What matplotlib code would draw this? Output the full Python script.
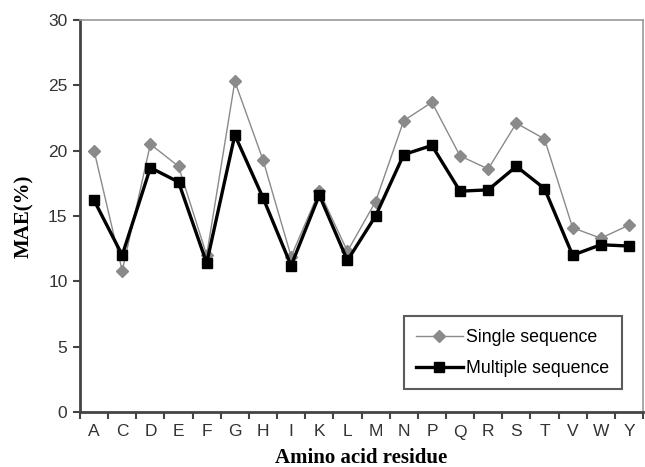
import matplotlib
matplotlib.use("Agg")
import matplotlib.pyplot as plt

residues = ["A", "C", "D", "E", "F", "G", "H", "I", "K", "L",
            "M", "N", "P", "Q", "R", "S", "T", "V", "W", "Y"]
single_seq = [20.0, 10.8, 20.5, 18.8, 12.0, 25.3, 19.3, 11.9, 16.9, 12.3,
              16.1, 22.3, 23.7, 19.6, 18.6, 22.1, 20.9, 14.1, 13.3, 14.3]
multiple_seq = [16.2, 12.0, 18.7, 17.6, 11.4, 21.2, 16.4, 11.2, 16.6, 11.6,
                15.0, 19.7, 20.4, 16.9, 17.0, 18.8, 17.1, 12.0, 12.8, 12.7]
yticks = [0, 5, 10, 15, 20, 25, 30]

fig = plt.figure(figsize=(6.45, 4.67), dpi=100)
ax = fig.add_axes([80/645, 55/467, 563/645, 392/467])

x = list(range(len(residues)))
ax.plot(x, single_seq, color="#8a8a8a", lw=1.0, marker="D", ms=6,
        mfc="#8a8a8a", mec="#8a8a8a", label="Single sequence", zorder=2)
ax.plot(x, multiple_seq, color="black", lw=2.4, marker="s", ms=7,
        mfc="black", mec="black", label="Multiple sequence", zorder=3)

ax.set_xlim(-0.5, len(residues) - 0.5)
ax.set_ylim(0, 30)
ax.set_yticks(yticks)
ax.set_xticks(x)
ax.set_xticklabels(residues)
ax.set_xticks([i - 0.5 for i in range(len(residues) + 1)], minor=True)
ax.tick_params(axis="x", which="major", length=0, pad=9, labelsize=12.5, colors="#333333")
ax.tick_params(axis="x", which="minor", length=5, width=1.5, direction="out", color="#444444")
ax.tick_params(axis="y", length=5, width=1.5, direction="out", labelsize=12.5, color="#444444",
               labelcolor="#333333", pad=4)
for lbl in ax.get_xticklabels() + ax.get_yticklabels():
    lbl.set_family("Liberation Sans")

for side in ["left", "bottom"]:
    ax.spines[side].set_linewidth(2.0)
    ax.spines[side].set_color("#444444")
for side in ["top", "right"]:
    ax.spines[side].set_linewidth(1.2)
    ax.spines[side].set_color("#999999")

ax.set_xlabel("Amino acid residue", family="Liberation Serif", fontweight="bold",
              fontsize=15, labelpad=6)
ax.set_ylabel("MAE(%)", family="Liberation Serif", fontweight="bold", fontsize=15,
              labelpad=10)

leg = ax.legend(loc="lower right", bbox_to_anchor=(0.978, 0.035), frameon=True, fancybox=False,
                edgecolor="#333333", prop={"family": "Liberation Sans", "size": 12.8},
                handlelength=2.6, borderpad=0.7, labelspacing=0.8, handletextpad=0.2)
leg.get_frame().set_linewidth(1.5)

fig.savefig("out.png", dpi=100)
